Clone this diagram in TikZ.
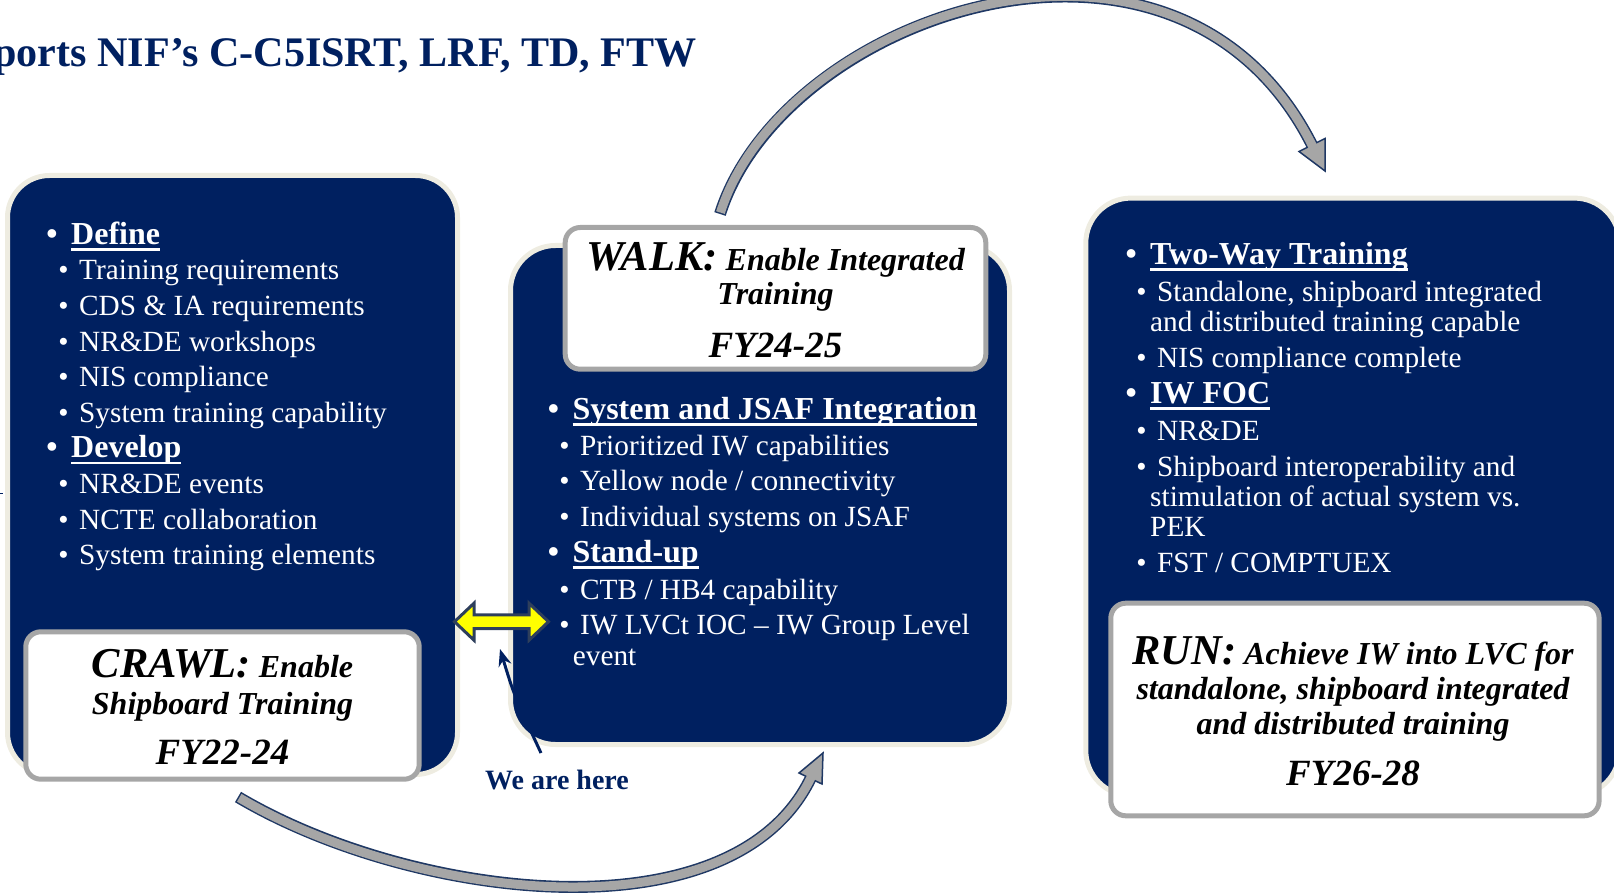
\documentclass[tikz,border=0pt]{standalone}
\usepackage{fontspec}
\setmainfont{Liberation Serif}
\usetikzlibrary{arrows.meta}
\definecolor{navy}{HTML}{002060}
\definecolor{beige}{HTML}{EEECE1}
\definecolor{boxgray}{HTML}{A6A6A6}
\definecolor{arcgray}{HTML}{A6A6A6}
\definecolor{arcline}{HTML}{1F3864}
\definecolor{ylw}{HTML}{FFFF00}
\definecolor{slate}{HTML}{2E3F5C}
\newcommand\hul[1]{\setbox0\hbox{#1}\rlap{\rule[-6.5pt]{\wd0}{2.8pt}}\box0}
\newcommand\bigttl{\fontsize{42.5}{42}\selectfont}
\newcommand\hbul{\llap{\textbullet\hspace{13.5pt}}}
\newcommand\sbul{\llap{\textbullet\hspace{10.5pt}}}
\begin{document}
\begin{tikzpicture}[x=1pt,y=-1pt,
  panel/.style={draw=beige, line width=5pt, fill=navy, rounded corners=42pt, inner sep=0pt},
  tbox/.style={draw=boxgray, line width=5pt, fill=white, rounded corners=15pt, inner sep=0pt},
  hd/.style={anchor=base west, inner sep=0pt, yshift=-2.5pt, text=white, font=\bfseries\fontsize{32}{36}\selectfont},
  sb/.style={anchor=base west, inner sep=0pt, yshift=-2.5pt, text=white, font=\fontsize{29.3}{34}\selectfont},
  bt/.style={anchor=base, inner sep=0pt, yshift=-2.5pt, text=black, font=\bfseries\itshape\fontsize{32}{36}\selectfont},
  fy/.style={anchor=base, inner sep=0pt, yshift=-2.5pt, text=black, font=\bfseries\itshape\fontsize{37}{40}\selectfont},
  bandout/.style={draw=arcline, line width=12pt},
  bandin/.style={draw=arcgray, line width=9pt, shorten <=1.5pt},
  head/.style={fill=arcgray, draw=arcline, line width=1.5pt, line join=miter}
]
\useasboundingbox (0,0) rectangle (1614,893);
\clip (0,0) rectangle (1614,893);

% title
\node[anchor=base east, inner sep=0pt, text=navy, font=\bfseries\fontsize{42.1}{46}\selectfont] (title) at (697,66.5) {ports NIF’s C-C5ISRT, LRF, TD, FTW};
\draw[navy, line width=1pt] (0,493) -- (3,493);

% curved arrows (connectors)
\coordinate (ta) at (720,214);
\coordinate (tb) at (1312,145);
\coordinate (ba) at (238,797);
\coordinate (bb) at (810.5,778.5);
\draw[bandout] (ta) .. controls (783,14.5) and (1177,-122) .. (tb);
\draw[bandout] (ba) .. controls (410,899) and (731.3,940.5) .. (bb);
\draw[head] (1325,171) -- (1325,138.5) -- (1299,151.5) -- cycle;
\draw[head] (823,753) -- (799,773) -- (822,784) -- cycle;
\draw[bandin] (ta) .. controls (783,14.5) and (1177,-122) .. (tb) -- ++(1.8,3.6);
\draw[bandin] (ba) .. controls (410,899) and (731.3,940.5) .. (bb) -- ++(1.8,-3.7);

% panels
\node[panel, minimum width=450pt, minimum height=599pt] (left) at (232.5,475) {};
\node[panel, rounded corners=45pt, minimum width=499pt, minimum height=499pt] (mid) at (760,495) {};
\node[panel, rounded corners=45pt, minimum width=533.7pt, minimum height=597.4pt] (right) at (1352.65,496.8) {};

% stage boxes
\node[tbox, minimum width=393.4pt, minimum height=147.4pt] (crawl) at (222.5,705.5) {};
\node[tbox, minimum width=420.6pt, minimum height=141.7pt] (walk) at (775.5,298.35) {};
\node[tbox, minimum width=488.3pt, minimum height=212.6pt] (run) at (1354.95,709.5) {};

\node[bt] (c1) at (222.5,675) {{\bigttl CRAWL:} Enable};
\node[bt] (c2) at (222.5,711.7) {Shipboard Training};
\node[fy] (c3) at (222.5,761.7) {FY22-24};

\node[bt] (w1) at (775.5,268.3) {{\bigttl WALK:} Enable Integrated};
\node[bt] (w2) at (775.5,301.7) {Training};
\node[fy] (w3) at (775.5,355) {FY24-25};

\node[bt] (u1) at (1353,661.7) {{\bigttl RUN:} Achieve IW into LVC for};
\node[bt] (u2) at (1353,696.7) {standalone, shipboard integrated};
\node[bt] (u3) at (1353,731.7) {and distributed training};
\node[fy] (u4) at (1353,782.7) {FY26-28};

% left panel text
\node[hd] (l0) at (71,241.7) {\hbul\hul{Define}};
\node[sb] (l1) at (79,277.3) {\sbul Training requirements};
\node[sb] (l2) at (79,312.9) {\sbul CDS \& IA requirements};
\node[sb] (l3) at (79,348.5) {\sbul NR\&DE workshops};
\node[sb] (l4) at (79,384.1) {\sbul NIS compliance};
\node[sb] (l5) at (79,419.7) {\sbul System training capability};
\node[hd] (l6) at (71,455.3) {\hbul\hul{Develop}};
\node[sb] (l7) at (79,490.9) {\sbul NR\&DE events};
\node[sb] (l8) at (79,526.5) {\sbul NCTE collaboration};
\node[sb] (l9) at (79,562.1) {\sbul System training elements};

% middle panel text
\node[hd] (m0) at (572.3,416.5) {\hbul\hul{System and JSAF Integration}};
\node[sb] (m1) at (580,452.5) {\sbul Prioritized IW capabilities};
\node[sb] (m2) at (580,488) {\sbul Yellow node / connectivity};
\node[sb] (m3) at (580,524) {\sbul Individual systems on JSAF};
\node[hd] (m4) at (572.3,560) {\hbul\hul{Stand-up}};
\node[sb] (m5) at (580,596.5) {\sbul CTB / HB4 capability};
\node[sb] (m6) at (580,631.7) {\sbul IW LVCt IOC – IW Group Level};
\node[sb] (m7) at (572.7,662.5) {event};

% right panel text
\node[hd] (r0) at (1150,262) {\hbul\hul{Two-Way Training}};
\node[sb] (r1) at (1157,299) {\sbul Standalone, shipboard integrated};
\node[sb] (r2) at (1150,329) {and distributed training capable};
\node[sb] (r3) at (1157,365) {\sbul NIS compliance complete};
\node[hd] (r4) at (1150,401) {\hbul\hul{IW FOC}};
\node[sb] (r5) at (1157,438) {\sbul NR\&DE};
\node[sb] (r6) at (1157,474) {\sbul Shipboard interoperability and};
\node[sb] (r7) at (1150,504) {stimulation of actual system vs.};
\node[sb] (r8) at (1150,534) {PEK};
\node[sb] (r9) at (1157,570) {\sbul FST / COMPTUEX};

% yellow double arrow
\draw[fill=ylw, draw=slate, line width=3pt, line join=miter] (454.5,621.7) -- (474,603.2) -- (474,614.8) -- (529,614.8) -- (529,603.2) -- (548.5,621.7) -- (529,640.2) -- (529,628.6) -- (474,628.6) -- (474,640.2) -- cycle;

% we are here
\node[anchor=base, inner sep=0pt, text=navy, font=\bfseries\fontsize{28}{30}\selectfont] (here) at (557,789) {We are here};
\coordinate (ptail) at (541,753);
\coordinate (ptip) at (500,649);
\draw[navy, line width=3pt, -{Stealth[length=17pt,width=13pt]}] (ptail) .. controls (514,695) .. (ptip);
\end{tikzpicture}
\end{document}
